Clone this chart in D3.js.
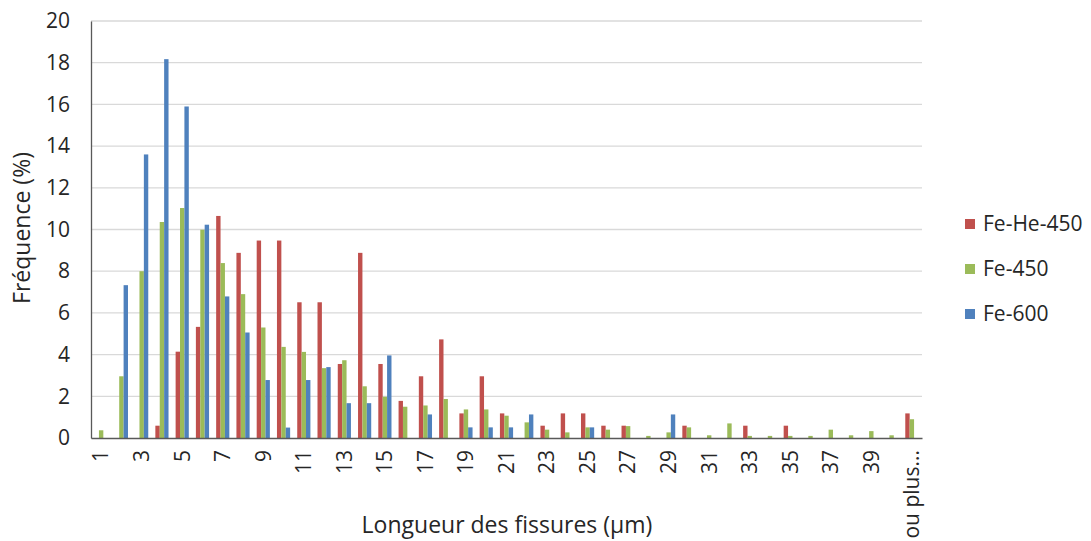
<!DOCTYPE html>
<html>
<head>
<meta charset="utf-8">
<script src="https://cdn.jsdelivr.net/npm/d3@7"></script>
<style>
  html, body { margin: 0; padding: 0; background: #fff; }
  svg { display: block; }
  text { font-family: "Open Sans", "Liberation Sans", sans-serif; fill: #262626; }
</style>
</head>
<body>
<svg id="chart" width="1091" height="541"></svg>
<script>
// ---------- data ----------
const categories = ["1","2","3","4","5","6","7","8","9","10","11","12","13","14","15","16","17","18","19","20",
  "21","22","23","24","25","26","27","28","29","30","31","32","33","34","35","36","37","38","39","40","ou plus..."];
const seriesNames = ["Fe-He-450", "Fe-450", "Fe-600"];
const feHe450 = [0,0,0,0.59,4.14,5.33,10.65,8.88,9.47,9.47,6.51,6.51,3.55,8.88,3.55,1.78,2.96,4.73,1.18,2.96,
  1.18,0,0.59,1.18,1.18,0.59,0.59,0,0,0.59,0,0,0.59,0,0.59,0,0,0,0,0,1.18];
const fe450 = [0.37,2.96,8.0,10.36,11.03,9.99,8.39,6.9,5.3,4.37,4.13,3.35,3.73,2.48,1.98,1.5,1.56,1.87,1.37,1.37,
  1.07,0.75,0.4,0.27,0.51,0.4,0.57,0.1,0.27,0.51,0.13,0.7,0.1,0.1,0.1,0.1,0.4,0.13,0.33,0.13,0.9];
const fe600 = [0,7.33,13.6,18.17,15.9,10.23,6.79,5.06,2.78,0.5,2.78,3.4,1.67,1.67,3.96,0,1.13,0,0.51,0.51,
  0.51,1.13,0,0,0.51,0,0,0,1.13,0,0,0,0,0,0,0,0,0,0,0,0];
const yTicks = [0,2,4,6,8,10,12,14,16,18,20];
const colors = ["#C0504D", "#9BBB59", "#4F81BD"];

const seriesValues = [feHe450, fe450, fe600];

// ---------- layout ----------
const svg = d3.select("#chart");
const plot = { left: 91, right: 922, top: 21, bottom: 438 };

const x = d3.scaleBand().domain(categories).range([plot.left, plot.right])
  .paddingInner(0.35).paddingOuter(0.175);
const xs = d3.scaleBand().domain(seriesNames).range([0, x.bandwidth()]);
const y = d3.scaleLinear().domain([0, 20]).range([plot.bottom, plot.top]);

// gridlines
svg.append("g").selectAll("line").data(yTicks.filter(d => d > 0)).join("line")
  .attr("x1", plot.left).attr("x2", plot.right)
  .attr("y1", d => y(d)).attr("y2", d => y(d))
  .attr("stroke", "#D9D9D9").attr("stroke-width", 1.3);

// bars
const groups = svg.append("g").selectAll("g").data(categories).join("g")
  .attr("transform", d => `translate(${x(d)},0)`);
groups.selectAll("rect")
  .data((d, i) => seriesNames.map((s, k) => ({ s, k, v: seriesValues[k][i] })))
  .join("rect")
  .attr("x", d => xs(d.s))
  .attr("width", xs.bandwidth())
  .attr("y", d => y(d.v))
  .attr("height", d => y(0) - y(d.v))
  .attr("fill", d => colors[d.k]);

// y axis
const yAxis = d3.axisLeft(y).tickValues(yTicks).tickSize(0).tickPadding(21);
const gy = svg.append("g").attr("transform", `translate(${plot.left},0)`).call(yAxis);
gy.select(".domain").attr("stroke", "#595959").attr("stroke-width", 1.3);
gy.selectAll("text").attr("font-size", 21).attr("font-family", "Open Sans").attr("fill", "#262626");

// x axis
const xAxis = d3.axisBottom(x).tickValues(categories.filter((d, i) => i % 2 === 0)).tickSize(0);
const gx = svg.append("g").attr("transform", `translate(0,${plot.bottom})`).call(xAxis);
gx.select(".domain").attr("stroke", "#595959").attr("stroke-width", 1.3);
gx.selectAll("text")
  .attr("font-size", 21).attr("font-family", "Open Sans").attr("fill", "#262626")
  .attr("text-anchor", "end")
  .attr("transform", "rotate(-90)")
  .attr("x", -12).attr("y", 0).attr("dy", "0.35em");

// axis titles
svg.append("text").attr("transform", "translate(22,228) rotate(-90)")
  .attr("text-anchor", "middle").attr("dy", "0.35em")
  .attr("font-size", 23).text("Fréquence (%)");
svg.append("text").attr("x", 507).attr("y", 533)
  .attr("text-anchor", "middle")
  .attr("font-size", 23).text("Longueur des fissures (µm)");

// legend
const legend = svg.append("g").selectAll("g").data(seriesNames).join("g")
  .attr("transform", (d, i) => `translate(965,${224 + i * 45})`);
legend.append("rect").attr("x", 0).attr("y", -5).attr("width", 10).attr("height", 10)
  .attr("fill", (d, i) => colors[i]);
legend.append("text").attr("x", 18).attr("y", 0).attr("dy", "0.35em")
  .attr("font-size", 21).text(d => d);
</script>
</body>
</html>
